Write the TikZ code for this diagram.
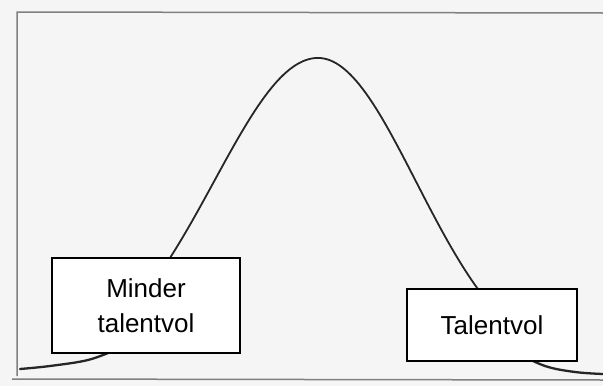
\documentclass[tikz,border=0pt]{standalone}
\usepackage{fontspec}
\setmainfont{Liberation Sans}
\begin{document}
\begin{tikzpicture}[x=1pt,y=-1pt,
  frameline/.style={draw=black!50,line width=1.5pt},
  curveline/.style={draw=black!85,line width=1.8pt,line cap=round},
  tailline/.style={draw=black!85,line width=2.3pt,line cap=round},
  labelbox/.style={draw=black,line width=1.8pt,fill=white,inner sep=0pt,
    align=center,font=\fontsize{26}{35}\selectfont}]
\fill[black!4] (0,0) rectangle (603,386);
\useasboundingbox (0,0) rectangle (603,386);
% frame
\coordinate (tl) at (17,12);
\coordinate (tr) at (603,13);
\coordinate (bl) at (17,376);
\coordinate (bll) at (12,379);
\coordinate (br) at (603,380);
\draw[frameline] (tr) -- (tl) -- (bl);
\draw[frameline] (bll) -- (br);
% bell curve (left and right halves)
\draw[curveline] plot[domain=-215:0,samples=70,smooth]
  ({318+\x},{372-314*exp(-0.5*(\x/104)*(\x/104))})
  -- plot[domain=0:205,samples=70,smooth]
  ({318+\x},{372-314*exp(-0.5*(\x/98)*(\x/98))});
\draw[tailline] plot[smooth,tension=0.6] coordinates {(20,369) (50,366) (88,360) (115,350)};
\draw[tailline] plot[smooth,tension=0.6] coordinates {(515,352) (545,366) (575,372) (603,374)};
% boxes
\node[labelbox,minimum width=188pt,minimum height=95pt] (minder) at (146,305.5) {Minder\\talentvol};
\node[labelbox,minimum width=170pt,minimum height=72pt] (talent) at (492,325) {Talentvol};
\end{tikzpicture}
\end{document}
